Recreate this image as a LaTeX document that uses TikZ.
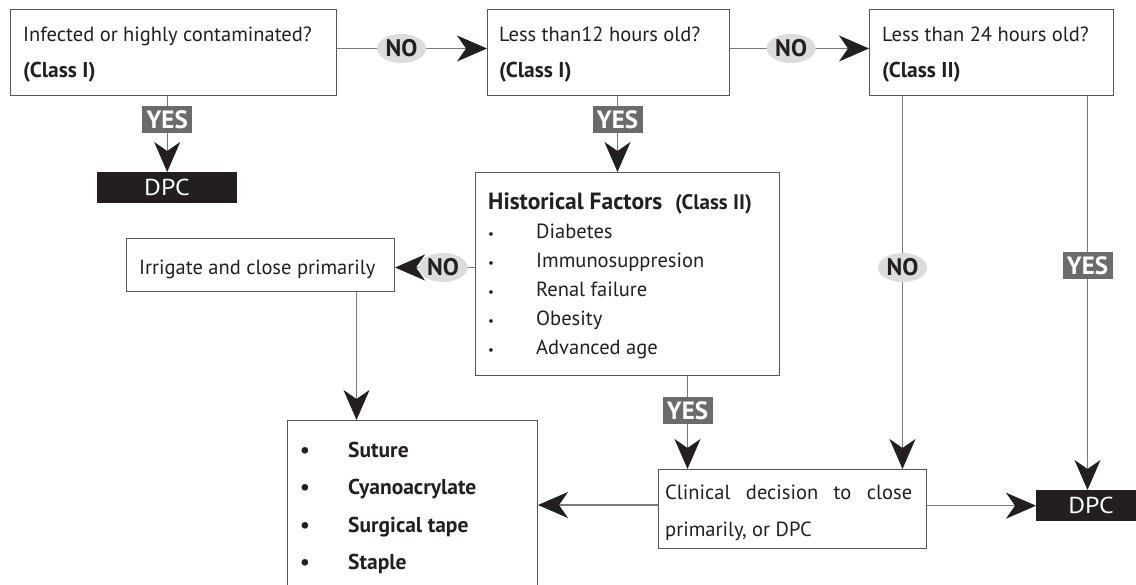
\documentclass[tikz,border=0pt]{standalone}
\usepackage{fontspec}
\setmainfont{PT Sans}
\usetikzlibrary{arrows.meta,shapes.geometric}
\definecolor{lineg}{HTML}{7A7A7A}
\definecolor{boxg}{HTML}{555555}
\definecolor{nofill}{HTML}{DCDCDC}
\definecolor{yesfill}{HTML}{6B6B6B}
\definecolor{dpcfill}{HTML}{231F20}
\newcommand{\widened}[1]{\scalebox{1.12}[1]{#1}}
\tikzset{
  box/.style={draw=boxg, line width=1pt, fill=white, inner sep=0pt, anchor=north west},
  txt/.style={font=\fontsize{20.5}{24}\selectfont, inner sep=0pt, anchor=base west, text=dpcfill},
  btxt/.style={font=\fontsize{21.5}{24}\selectfont\bfseries, inner sep=0pt, anchor=base west, text=dpcfill},
  conn/.style={draw=lineg, line width=1.3pt, -{Stealth[length=30pt,width=26pt,inset=9pt,color=dpcfill]}},
  nolab/.style={ellipse, fill=nofill, minimum width=49pt, minimum height=29pt, inner sep=0pt, font=\fontsize{24}{26}\selectfont\bfseries, text=dpcfill},
  yeslab/.style={rectangle, fill=yesfill, text=white, minimum width=50pt, minimum height=27pt, inner sep=0pt, font=\fontsize{25}{26}\selectfont\bfseries},
  dpcbox/.style={rectangle, fill=dpcfill, text=white, inner sep=0pt, anchor=north west},
  dpctxt/.style={font=\fontsize{23}{24}\selectfont, text=white, inner sep=0pt},
}
\begin{document}
\begin{tikzpicture}[x=1pt,y=-1pt]
\useasboundingbox (0,0) rectangle (1136,585);
\clip (0,0) rectangle (1136,585);
% boxes
\node[box, minimum width=326pt, minimum height=86pt] (b1) at (10,9) {};
\node[box, minimum width=242pt, minimum height=86pt] (b2) at (487,9) {};
\node[box, minimum width=244pt, minimum height=86pt] (b3) at (869,9) {};
\node[box, minimum width=304pt, minimum height=203pt] (hist) at (475,172) {};
\node[box, minimum width=268pt, minimum height=53pt] (irr) at (126,238) {};
\node[box, minimum width=250pt, minimum height=200pt] (tools) at (287,420) {};
\node[box, minimum width=268pt, minimum height=79pt] (clin) at (658,469) {};
\node[dpcbox, minimum width=140pt, minimum height=31pt] (dpc1) at (97,172) {};
\node[dpcbox, minimum width=120pt, minimum height=31pt] (dpc2) at (1036,490) {};
\node[dpctxt] (dpc1t) at (167,187.5) {\widened{DPC}};
\node[dpctxt] (dpc2t) at (1091,505.5) {\widened{DPC}};
% texts
\node[txt] (t1a) at (23,42) {Infected or highly contaminated?};
\node[btxt] (t1b) at (23,78) {(Class I)};
\node[txt] (t2a) at (499,42) {Less than12 hours old?};
\node[btxt] (t2b) at (499,78) {(Class I)};
\node[txt] (t3a) at (882,42) {Less than 24 hours old?};
\node[btxt] (t3b) at (882,78) {(Class II)};
\node[inner sep=0pt, anchor=base west, text=dpcfill, font=\fontsize{23.5}{26}\selectfont\bfseries] (ht) at (488,210) {Historical Factors};
\node[inner sep=0pt, anchor=base west, text=dpcfill, font=\fontsize{21}{24}\selectfont\bfseries] (hc) at (675,210) {(Class II)};
\foreach \y/\t [count=\i] in {239/Diabetes, 268/Immunosuppresion, 297/Renal failure, 326/Obesity, 355/Advanced age}{
  \node[txt, font=\fontsize{13}{14}\selectfont] (hb\i) at (488,\y) {•};
  \node[txt] (hi\i) at (536,\y) {\t};
}
\node[txt] (irrt) at (139,275) {Irrigate and close primarily};
\foreach \y/\t [count=\i] in {457/Suture, 494/Cyanoacrylate, 532/Surgical tape, 569/Staple}{
  \node[btxt] (tb\i) at (300,\y) {•};
  \node[btxt] (ti\i) at (348,\y) {\t};
}
\node[txt] (c1) at (665,499) {\makebox[247pt][s]{Clinical decision to close}};
\node[txt] (c2) at (665,536) {primarily, or DPC};
% connectors
\draw[conn] ([yshift=4pt]b1.east) -- node[nolab, pos=0.43] (no1) {NO} ([yshift=4pt]b2.west);
\draw[conn] ([yshift=4pt]b2.east) -- node[nolab, pos=0.44] (no2) {NO} ([yshift=4pt]b3.west);
\draw[conn] (dpc1.north |- b1.south) -- node[yeslab, pos=0.31] (yes1) {YES} (dpc1.north);
\draw[conn] ([xshift=9pt]b2.south) -- node[yeslab, pos=0.31] (yes2) {YES} ([xshift=9pt]b2.south |- hist.north);
\draw[conn] ([yshift=-2.5pt]irr.east -| hist.west) -- node[nolab, pos=0.40] (no3) {NO} ([yshift=-2.5pt]irr.east);
\draw[conn] ([xshift=96pt]irr.south) -- ([xshift=96pt]irr.south |- tools.north);
\draw[conn] ([xshift=60pt]hist.south) -- node[yeslab, pos=0.37] (yes3) {YES} ([xshift=60pt]hist.south |- clin.north);
\draw[conn] ([xshift=-89pt]b3.south) -- node[nolab, pos=0.46] (no4) {NO} ([xshift=-89pt]b3.south |- clin.north);
\draw[conn] ([xshift=96pt]b3.south) -- node[yeslab, pos=0.43] (yes4) {YES} ([xshift=96pt]b3.south |- dpc2.north);
\draw[conn] ([yshift=4pt]clin.west) -- ([yshift=4pt]clin.west -| tools.east);
\draw[conn] (dpc2.west -| clin.east) -- (dpc2.west);
\end{tikzpicture}
\end{document}
